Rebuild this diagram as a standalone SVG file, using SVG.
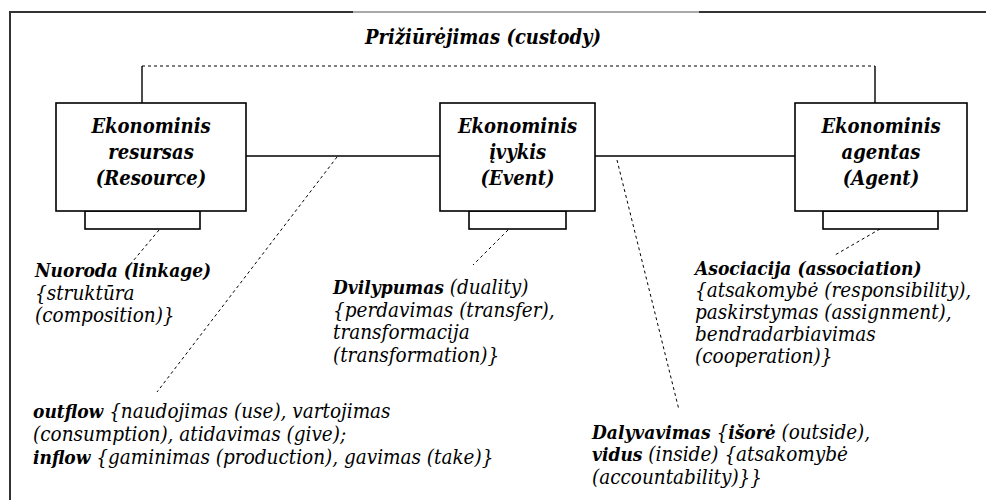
<svg xmlns="http://www.w3.org/2000/svg" width="986" height="500" viewBox="0 0 986 500">
  <style>
    .frame { stroke: #333; stroke-width: 2; fill: none; }
    .box { fill: #fff; stroke: #000; stroke-width: 1.6; }
    .line { stroke: #000; stroke-width: 1.4; fill: none; }
    .dash { stroke: #000; stroke-width: 1; stroke-dasharray: 3 3; fill: none; }
    text { font-family: 'DejaVu Serif Condensed', 'DejaVu Serif', serif; font-style: italic; fill: #000; }
    .title { font-weight: bold; font-size: 20px; }
    .name { font-weight: bold; font-size: 20px; text-anchor: middle; }
    .note { font-size: 20.5px; }
    .b { font-weight: bold; font-size: 19px; }
  </style>
  <rect width="986" height="500" fill="#fff"/>

  <!-- page frame -->
  <g id="frame">
    <path class="frame" d="M10 500 V12 H353"/>
    <path d="M353 12 H699" stroke="#555" stroke-width="1.2"/>
    <path class="frame" d="M699 12 H986"/>
  </g>

  <text class="title" x="483" y="44" text-anchor="middle">Prižiūrėjimas (custody)</text>

  <!-- connectors -->
  <g id="connectors">
    <path class="dash" d="M142 66 H875"/>
    <path class="line" d="M142 66 V103"/>
    <path class="line" d="M875 66 V103"/>
    <path class="line" d="M246 156 H440"/>
    <path class="line" d="M595 156 H795"/>
    <path class="dash" d="M159 230 L128 267"/>
    <path class="dash" d="M337 157 L157 392"/>
    <path class="dash" d="M508 230 L473 265"/>
    <path class="dash" d="M617 160 L679 410"/>
    <path class="dash" d="M880 229 L835 255"/>
  </g>

  <!-- nodes -->
  <g id="resource">
    <rect class="box" x="85" y="211" width="115" height="18"/>
    <rect class="box" x="56" y="103" width="190" height="108"/>
    <text class="name" x="151" y="133">Ekonominis</text>
    <text class="name" x="151" y="159">resursas</text>
    <text class="name" x="151" y="185">(Resource)</text>
  </g>
  <g id="event">
    <rect class="box" x="469" y="211" width="97" height="18"/>
    <rect class="box" x="440" y="103" width="155" height="108"/>
    <text class="name" x="517.5" y="133">Ekonominis</text>
    <text class="name" x="517.5" y="159">įvykis</text>
    <text class="name" x="517.5" y="185">(Event)</text>
  </g>
  <g id="agent">
    <rect class="box" x="823" y="211" width="115" height="18"/>
    <rect class="box" x="795" y="103" width="172" height="108"/>
    <text class="name" x="881" y="133">Ekonominis</text>
    <text class="name" x="881" y="159">agentas</text>
    <text class="name" x="881" y="185">(Agent)</text>
  </g>

  <!-- relationship labels -->
  <g id="linkage">
    <text class="note" x="35" y="277"><tspan class="b">Nuoroda (linkage)</tspan></text>
    <text class="note" x="35" y="300">{struktūra</text>
    <text class="note" x="35" y="322">(composition)}</text>
  </g>
  <g id="duality">
    <text class="note" x="333" y="294"><tspan class="b">Dvilypumas</tspan> (duality)</text>
    <text class="note" x="333" y="317">{perdavimas (transfer),</text>
    <text class="note" x="333" y="339">transformacija</text>
    <text class="note" x="333" y="362">(transformation)}</text>
  </g>
  <g id="association">
    <text class="note" x="695" y="275"><tspan class="b">Asociacija (association)</tspan></text>
    <text class="note" x="695" y="297">{atsakomybė (responsibility),</text>
    <text class="note" x="695" y="319">paskirstymas (assignment),</text>
    <text class="note" x="695" y="341">bendradarbiavimas</text>
    <text class="note" x="695" y="363">(cooperation)}</text>
  </g>
  <g id="flows">
    <text class="note" x="33" y="418"><tspan class="b">outflow</tspan> {naudojimas (use), vartojimas</text>
    <text class="note" x="33" y="441">(consumption), atidavimas (give);</text>
    <text class="note" x="33" y="464"><tspan class="b">inflow</tspan> {gaminimas (production), gavimas (take)}</text>
  </g>
  <g id="participation">
    <text class="note" x="592" y="439"><tspan class="b">Dalyvavimas</tspan> {<tspan class="b">išorė</tspan> (outside),</text>
    <text class="note" x="592" y="461"><tspan class="b">vidus</tspan> (inside) {atsakomybė</text>
    <text class="note" x="592" y="484">(accountability)}}</text>
  </g>
</svg>
